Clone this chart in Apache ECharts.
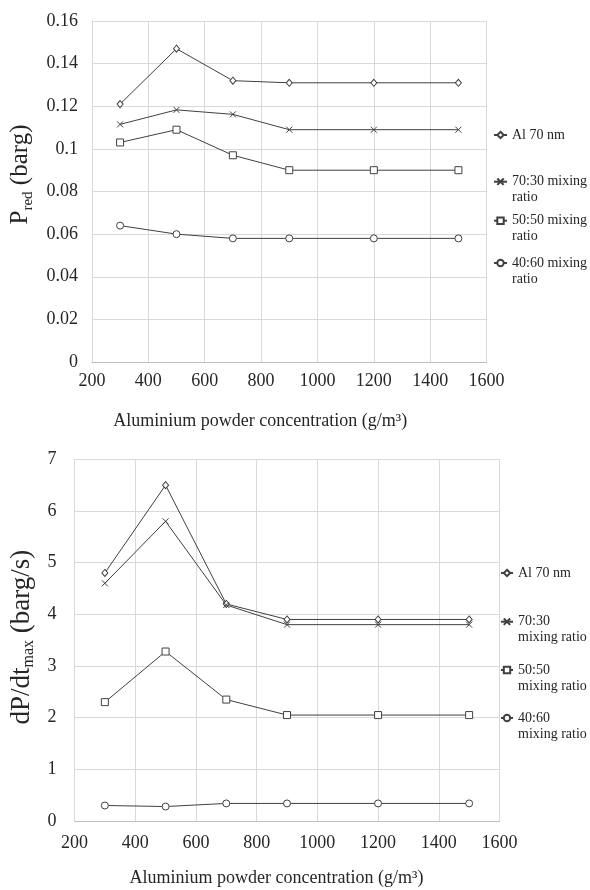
<!DOCTYPE html>
<html>
<head>
<meta charset="utf-8">
<script src="https://cdn.jsdelivr.net/npm/echarts@6/dist/echarts.min.js"></script>
<style>
html,body{margin:0;padding:0;background:#fff;}
#c{width:590px;height:890px;}
</style>
</head>
<body>
<div id="c"></div>
<script>
// ---- data ----
var concentrations = [300, 500, 700, 900, 1200, 1500];
var seriesNames = ['Al 70 nm', '70:30 mixing ratio', '50:50 mixing ratio', '40:60 mixing ratio'];

var predAl70 = [0.121, 0.147, 0.132, 0.131, 0.131, 0.131];
var pred7030 = [0.1115, 0.1183, 0.1162, 0.109, 0.109, 0.109];
var pred5050 = [0.103, 0.109, 0.097, 0.090, 0.090, 0.090];
var pred4060 = [0.064, 0.060, 0.058, 0.058, 0.058, 0.058];

var dpdtAl70 = [4.8, 6.5, 4.2, 3.9, 3.9, 3.9];
var dpdt7030 = [4.6, 5.8, 4.18, 3.8, 3.8, 3.8];
var dpdt5050 = [2.3, 3.28, 2.35, 2.05, 2.05, 2.05];
var dpdt4060 = [0.30, 0.28, 0.34, 0.34, 0.34, 0.34];

var xTicks = {min: 200, max: 1600, interval: 200};
var predTicks = {min: 0, max: 0.16, interval: 0.02};
var dpdtTicks = {min: 0, max: 7, interval: 1};

var topLegendText = ['Al 70 nm', '70:30 mixing\nratio', '50:50 mixing\nratio', '40:60 mixing\nratio'];
var bottomLegendText = ['Al 70 nm', '70:30\nmixing ratio', '50:50\nmixing ratio', '40:60\nmixing ratio'];

// ---- styling ----
var FONT = '"Liberation Serif", "Times New Roman", serif';
var LINE = '#404040';
var TXT = '#262626';
var GRID = '#d9d9d9';
var crossPath = 'path://M0,0L10,10M10,0L0,10';
var symbols = ['diamond', crossPath, 'rect', 'circle'];
var symbolSizes = [[6, 7], 6, 7, 7];

function pairs(vals) {
  return concentrations.map(function (x, i) { return [x, vals[i]]; });
}

function mkSeries(name, vals, idx, gi) {
  return {
    type: 'line',
    name: name,
    xAxisIndex: gi, yAxisIndex: gi,
    data: pairs(vals),
    symbol: symbols[idx],
    symbolSize: symbolSizes[idx],
    showAllSymbol: true,
    lineStyle: {color: LINE, width: 1},
    itemStyle: {color: '#fff', borderColor: LINE, borderWidth: 1},
    emphasis: {disabled: true},
    animation: false
  };
}

function xAxis(gi, margin, nameGap, padRight) {
  return {
    type: 'value', gridIndex: gi,
    min: xTicks.min, max: xTicks.max, interval: xTicks.interval,
    name: 'Aluminium powder concentration (g/m\u00B3)',
    nameLocation: 'middle', nameGap: nameGap,
    nameTextStyle: {fontFamily: FONT, fontSize: 18, color: TXT, padding: [0, padRight, 0, 0]},
    axisLine: {show: true, lineStyle: {color: '#bfbfbf', width: 1}},
    axisTick: {show: false},
    axisLabel: {fontFamily: FONT, fontSize: 18, color: TXT, margin: margin,
      formatter: function (v) { return String(v); }},
    splitLine: {show: true, lineStyle: {color: GRID, width: 1}}
  };
}

function yAxis(gi, t, name, rich, nameGap, margin, namePad) {
  return {
    type: 'value', gridIndex: gi,
    min: t.min, max: t.max, interval: t.interval,
    name: name, nameLocation: 'middle', nameGap: nameGap, nameRotate: 90,
    nameTextStyle: {fontFamily: FONT, color: TXT, rich: rich, padding: namePad},
    axisLine: {show: true, lineStyle: {color: GRID, width: 1}},
    axisTick: {show: false},
    axisLabel: {fontFamily: FONT, fontSize: 18, color: TXT, margin: margin},
    splitLine: {show: true, lineStyle: {color: GRID, width: 1}}
  };
}

var L = 16;
function legendItem(name, text, left, yCenter, iconW) {
  var multi = text.indexOf('\n') >= 0;
  // a leading blank line keeps the marker level with the first text line
  var shown = multi ? '\n' + text : text;
  return {
    data: [name],
    left: left,
    top: multi ? yCenter - 1.5 * L : yCenter - L / 2,
    padding: 0,
    itemWidth: iconW, itemHeight: 8,
    selectedMode: false,
    formatter: function () { return shown; },
    textStyle: {fontFamily: FONT, fontSize: 14, color: TXT, lineHeight: L}
  };
}

var topCenters = [135, 181.7, 220.7, 263];
var botCenters = [573, 621.7, 670, 718];
var legends = [];
seriesNames.forEach(function (n, i) {
  legends.push(legendItem(n, topLegendText[i], 493, topCenters[i], 13));
});
seriesNames.forEach(function (n, i) {
  legends.push(legendItem(n, bottomLegendText[i], 500, botCenters[i], 12));
});

var predRich = {
  m: {fontFamily: FONT, fontSize: 25, color: TXT, lineHeight: 30},
  s: {fontFamily: FONT, fontSize: 15, color: TXT, lineHeight: 12, verticalAlign: 'bottom'}
};
var dpdtRich = {
  m: {fontFamily: FONT, fontSize: 27, color: TXT, lineHeight: 30},
  s: {fontFamily: FONT, fontSize: 16, color: TXT, lineHeight: 12, verticalAlign: 'bottom'}
};

var option = {
  backgroundColor: '#fff',
  animation: false,
  legend: legends,
  grid: [
    {left: 88, right: 103.4, top: 21, height: 341},
    {left: 71, right: 90.5, top: 459.3, height: 361.7}
  ],
  xAxis: [xAxis(0, 10, 50, 58), xAxis(1, 13, 48, 21)],
  yAxis: [
    yAxis(0, predTicks, '{m|P}{s|red}{m| (barg)}', predRich, 55, 14, [0, 0, 0, 34]),
    yAxis(1, dpdtTicks, '{m|dP/dt}{s|max}{m| (barg/s)}', dpdtRich, 38, 18, [0, 0, 0, 6])
  ],
  series: [
    mkSeries(seriesNames[0], predAl70, 0, 0),
    mkSeries(seriesNames[1], pred7030, 1, 0),
    mkSeries(seriesNames[2], pred5050, 2, 0),
    mkSeries(seriesNames[3], pred4060, 3, 0),
    mkSeries(seriesNames[0], dpdtAl70, 0, 1),
    mkSeries(seriesNames[1], dpdt7030, 1, 1),
    mkSeries(seriesNames[2], dpdt5050, 2, 1),
    mkSeries(seriesNames[3], dpdt4060, 3, 1)
  ]
};

var chart = echarts.init(document.getElementById('c'), null, {renderer: 'canvas'});
chart.setOption(option);
</script>
</body>
</html>
